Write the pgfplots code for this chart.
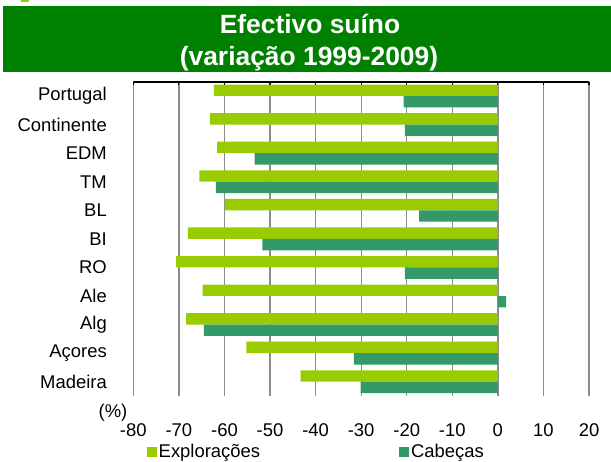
\documentclass[border=0pt]{standalone}
\usepackage{pgfplots}
\pgfplotsset{compat=1.18}
\usepackage{fontspec}
\setmainfont{Liberation Sans}

\definecolor{lima}{HTML}{99CC00}
\definecolor{verde}{HTML}{339966}
\definecolor{faixa}{HTML}{008000}
\definecolor{grelha}{HTML}{8C8C8C}

% variacao 1999-2009 (%), categorias de cima (11) para baixo (1)
\pgfplotstableread{
y     x
11.2  -62.3
10.2  -63.2
9.2   -61.6
8.2   -65.5
7.2   -59.9
6.2   -68.0
5.2   -70.6
4.2   -64.8
3.2   -68.4
2.2   -55.2
1.2   -43.3
}\exploracoes
\pgfplotstableread{
y     x
10.8  -20.7
9.8   -20.4
8.8   -53.4
7.8   -61.9
6.8   -17.3
5.8   -51.7
4.8   -20.4
3.8   1.8
2.8   -64.5
1.8   -31.6
0.8   -30.1
}\cabecas

\begin{document}
\begin{tikzpicture}
\path (0,0) rectangle (611bp,-462bp);
\fill[lima] (20.5bp,0) rectangle (28.5bp,-1.5bp);
\fill[faixa] (3bp,-6bp) rectangle (611bp,-72bp);
\node[anchor=base, text=white, inner sep=0pt,
  font=\fontsize{26.5}{30}\selectfont\bfseries] at (310bp,-33bp) {Efectivo suíno};
\node[anchor=base, text=white, inner sep=0pt,
  font=\fontsize{26.5}{30}\selectfont\bfseries] at (309bp,-65bp) {(variação 1999-2009)};
\node[font=\fontsize{18.5}{20}\selectfont, inner sep=0pt] at (113bp,-413bp) {(\%)};

\begin{axis}[
  at={(133.3bp,-396bp)}, anchor=south west,
  scale only axis, width=455.7bp, height=314.3bp,
  xmin=-80, xmax=20, ymin=0.5, ymax=11.5,
  xtick={-80,-70,...,20},
  ytick={1,...,11},
  yticklabels={Madeira,Açores,Alg,Ale,RO,BI,BL,TM,EDM,Continente,Portugal},
  xtick pos=upper, xticklabel pos=lower,
  ytick style={draw=none},
  xtick style={black, line width=1.2bp},
  major tick length=3bp,
  xmajorgrids, grid style={grelha, line width=1.3bp},
  axis line style={draw=none},
  ticklabel style={font=\fontsize{18.5}{20}\selectfont},
  /pgf/number format/assume math mode=true,
  xticklabel style={yshift=-24bp},
  yticklabel style={xshift=-20bp},
  xbar, bar width=11.4bp, bar shift=0pt,
  legend columns=2,
  legend cell align=left,
  legend style={at={(0.029,-0.178)}, anchor=west, draw=none, fill=none,
    inner sep=0pt, font=\fontsize{18.5}{20}\selectfont,
    /tikz/every even column/.append style={column sep=137bp}},
  legend image code/.code={\path[#1,draw=none] (0bp,-5bp) rectangle (10bp,5bp);},
]
\addplot[fill=lima, draw=none] table[x=x, y=y] {\exploracoes};
\addlegendentry{Explorações}
\addplot[fill=verde, draw=none] table[x=x, y=y] {\cabecas};
\addlegendentry{Cabeças}
\draw[black, line width=2bp] (axis cs:-80,11.5) -- (axis cs:20,11.5);
\end{axis}
\end{tikzpicture}
\end{document}
